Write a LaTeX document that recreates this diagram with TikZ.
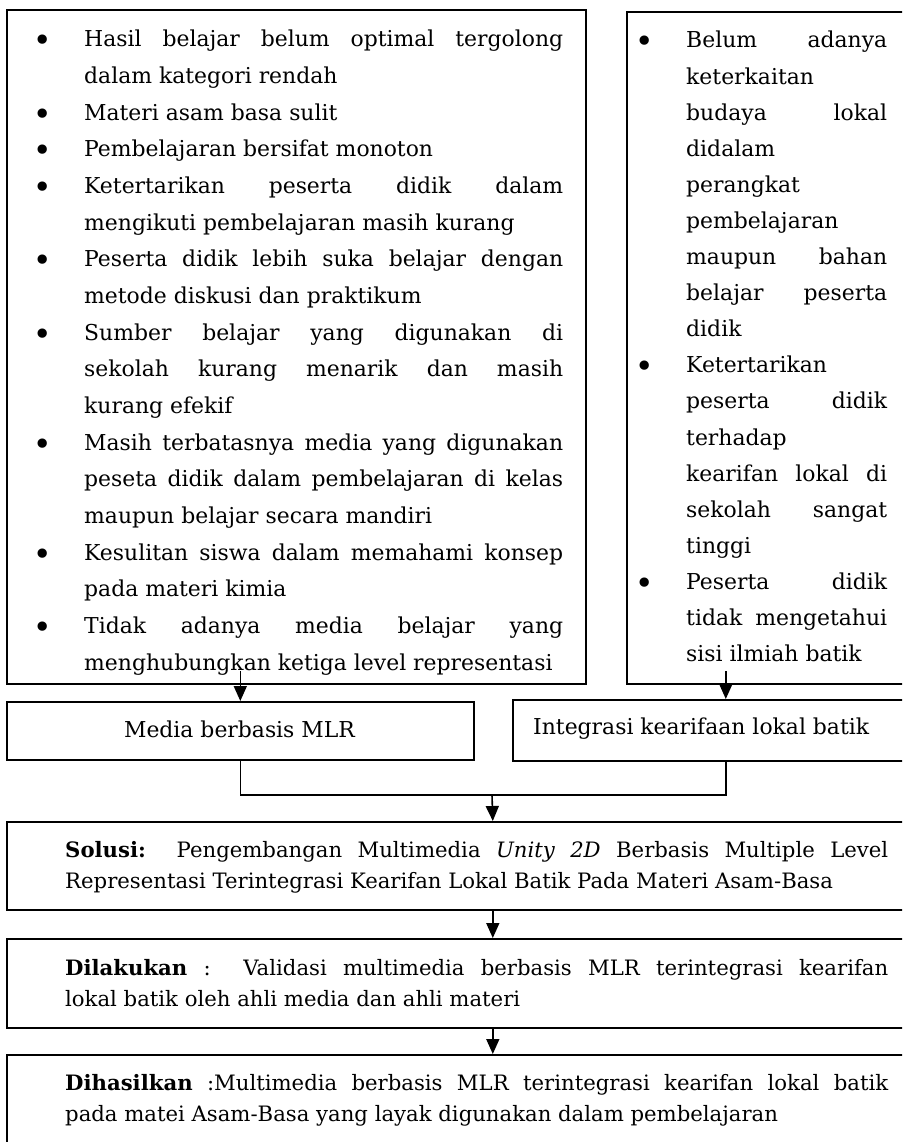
\documentclass[tikz,border=0pt]{standalone}
\usepackage{fontspec}
\setmainfont{DejaVu Serif}
\usetikzlibrary{arrows.meta}
\newcommand\JLine[1]{\hbox to\hsize{#1}}
\newcommand\LLine[1]{\hbox to\hsize{#1\hfil}}
\newcommand\bul{\llap{\hbox to 42pt{\hss\raisebox{-5pt}{\fontsize{32pt}{32pt}\selectfont\textbullet}\hss}\hskip 21pt}}
\newcommand\txtsz{\fontsize{21.9pt}{26pt}\selectfont}
\newcommand\botsz{\fontsize{21.2pt}{26pt}\selectfont}
\begin{document}
\begin{tikzpicture}[x=1pt,y=-1pt,
  box/.style={draw, line width=1.6pt, inner sep=0pt, anchor=north west},
  arr/.style={line width=1.6pt, -{Triangle[length=15pt,width=13pt]}},
  txt/.style={anchor=base west, inner sep=0pt, font=\txtsz}]
\clip (0,0) rectangle (902,1142);
% boxes
\node[box, minimum width=579pt, minimum height=674pt] (L) at (6,9) {};
\node[box, minimum width=314pt, minimum height=672pt] (R) at (626,11) {};
\node[box, minimum width=467pt, minimum height=58pt] (M) at (6,701) {};
\node[box, minimum width=426pt, minimum height=61pt] (I) at (512,699) {};
\node[box, minimum width=972pt, minimum height=88pt] (S) at (6,821) {};
\node[box, minimum width=972pt, minimum height=89pt] (D) at (6,938) {};
\node[box, minimum width=972pt, minimum height=100pt] (H) at (6,1054) {};
% texts
\node[txt] (Lt) at (84,47) {\vtop{\hsize=479pt\baselineskip=36.65pt\lineskiplimit=-100pt\lineskip=0pt\parindent=0pt
\JLine{\bul Hasil belajar belum optimal tergolong}
\LLine{dalam kategori rendah}
\LLine{\bul Materi asam basa sulit}
\LLine{\bul Pembelajaran bersifat monoton}
\JLine{\bul Ketertarikan peserta didik dalam}
\LLine{mengikuti pembelajaran masih kurang}
\JLine{\bul Peserta didik lebih suka belajar dengan}
\LLine{metode diskusi dan praktikum}
\JLine{\bul Sumber belajar yang digunakan di}
\JLine{sekolah kurang menarik dan masih}
\LLine{kurang efekif}
\JLine{\bul Masih terbatasnya media yang digunakan}
\JLine{peseta didik dalam pembelajaran di kelas}
\LLine{maupun belajar secara mandiri}
\JLine{\bul Kesulitan siswa dalam memahami konsep}
\LLine{pada materi kimia}
\JLine{\bul Tidak adanya media belajar yang}
\LLine{menghubungkan ketiga level representasi}}};
\node[txt] (Rt) at (686,48) {\vtop{\hsize=201pt\baselineskip=36.1pt\lineskiplimit=-100pt\lineskip=0pt\parindent=0pt
\JLine{\bul Belum adanya}
\LLine{keterkaitan}
\JLine{budaya lokal}
\LLine{didalam}
\LLine{perangkat}
\LLine{pembelajaran}
\JLine{maupun bahan}
\JLine{belajar peserta}
\LLine{didik}
\LLine{\bul Ketertarikan}
\JLine{peserta didik}
\LLine{terhadap}
\JLine{kearifan lokal di}
\JLine{sekolah sangat}
\LLine{tinggi}
\JLine{\bul Peserta didik}
\JLine{tidak mengetahui}
\LLine{sisi ilmiah batik}}};
\node[txt, anchor=base] (Mt) at (239.5,737) {Media berbasis MLR};
\node[txt] (It) at (533,734) {Integrasi kearifaan lokal batik};
\node[txt, font=\botsz] (St) at (65,857) {\vtop{\hsize=823pt\baselineskip=31pt\lineskiplimit=-100pt\lineskip=0pt\parindent=0pt
\JLine{\textbf{Solusi:}\ \ Pengembangan Multimedia \textit{Unity 2D} Berbasis Multiple Level}
\LLine{Representasi Terintegrasi Kearifan Lokal Batik Pada Materi Asam-Basa}}};
\node[txt, font=\botsz] (Dt) at (65,975) {\vtop{\hsize=823pt\baselineskip=31pt\lineskiplimit=-100pt\lineskip=0pt\parindent=0pt
\JLine{\textbf{Dilakukan} :\ \ Validasi multimedia berbasis MLR terintegrasi kearifan}
\LLine{lokal batik oleh ahli media dan ahli materi}}};
\node[txt, font=\botsz] (Ht) at (65,1090) {\vtop{\hsize=823pt\baselineskip=31pt\lineskiplimit=-100pt\lineskip=0pt\parindent=0pt
\JLine{\textbf{Dihasilkan} :Multimedia berbasis MLR terintegrasi kearifan lokal batik}
\LLine{pada matei Asam-Basa yang layak digunakan dalam pembelajaran}}};
% connectors
\coordinate (J) at (492,795);
\draw[arr] ([yshift=30pt]M.north) -- (M.north);
\draw[arr] ([yshift=28pt]I.north) -- (I.north);
\draw[line width=1.6pt] (M.south) |- (J) -| (I.south);
\draw[arr] (J) -- (S.north);
\draw[arr] (S.south) -- (D.north);
\draw[arr] (D.south) -- (H.north);
\end{tikzpicture}
\end{document}
